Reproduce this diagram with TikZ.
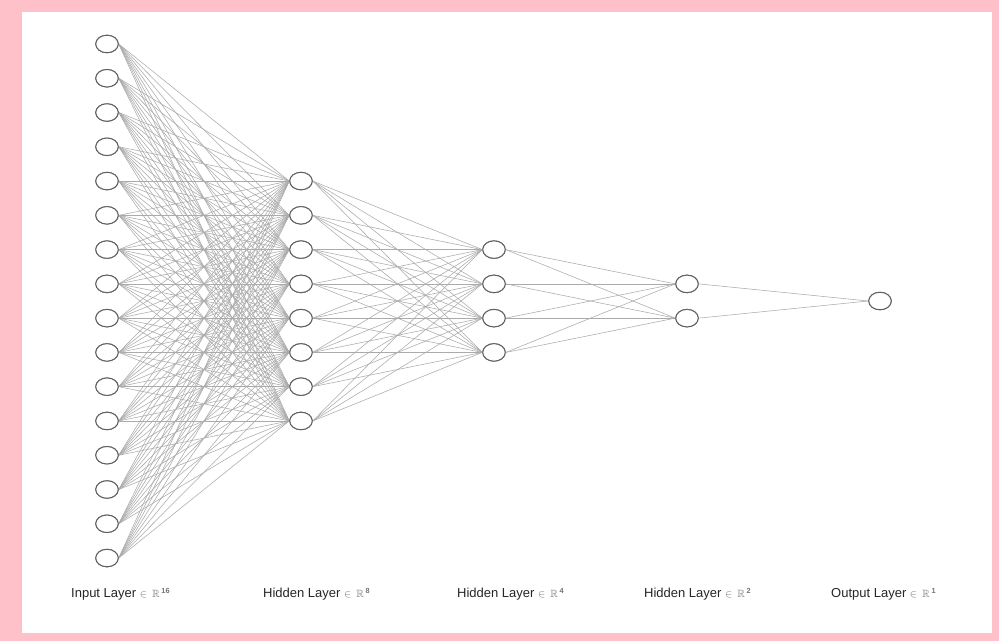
\documentclass[tikz,border=0pt]{standalone}
\usepackage{fontspec}
\usepackage{amssymb}
\setmainfont{Liberation Sans}
\usetikzlibrary{shapes.geometric}
\definecolor{framepink}{RGB}{255,193,201}
\newcommand{\layerdim}[1]{\ {\color{black!55}\fontsize{10.5}{12}\selectfont$\in\,\mathbb{R}\,^{\mathbf{#1}}$}}
\begin{document}
\begin{tikzpicture}[x=1pt,y=-1pt,
  neuron/.style={ellipse,draw=black!62,line width=1pt,fill=white,
    minimum width=22.5pt,minimum height=17.5pt,inner sep=0pt},
  synapse/.style={draw=black!33,line width=0.55pt},
  layerlabel/.style={anchor=base west,inner sep=0pt,text=black!85,
    font=\fontsize{13}{15}\selectfont}]
  % frame and canvas
  \fill[framepink] (0,0) rectangle (999,641);
  \fill[white] (22,12) rectangle (992,633);
  \useasboundingbox (0,0) rectangle (999,641);

  % neurons of each layer, centred on y = 301
  \foreach \n/\x [count=\l] in {16/107,8/301,4/494,2/687,1/880}{
    \foreach \i in {1,...,\n}{
      \node[neuron] (n-\l-\i) at (\x,{301+(\i-(\n+1)/2)*34.27}) {};
    }
  }

  % fully connected weights between consecutive layers
  \foreach \l/\n/\m in {1/16/8,2/8/4,3/4/2,4/2/1}{
    \pgfmathtruncatemacro\k{\l+1}
    \foreach \i in {1,...,\n}{
      \foreach \j in {1,...,\m}{
        \draw[synapse] (n-\l-\i.east) -- (n-\k-\j.west);
      }
    }
  }

  % redraw neuron outlines on top of the weights
  \foreach \n/\x [count=\l] in {16/107,8/301,4/494,2/687,1/880}{
    \foreach \i in {1,...,\n}{
      \node[neuron] at (n-\l-\i) {};
    }
  }

  % layer captions
  \node[layerlabel] (l1) at (71,597) {Input Layer\layerdim{16}};
  \node[layerlabel] (l2) at (263,597) {Hidden Layer\layerdim{8}};
  \node[layerlabel] (l3) at (457,597) {Hidden Layer\layerdim{4}};
  \node[layerlabel] (l4) at (644,597) {Hidden Layer\layerdim{2}};
  \node[layerlabel] (l5) at (831,597) {Output Layer\layerdim{1}};
\end{tikzpicture}
\end{document}
